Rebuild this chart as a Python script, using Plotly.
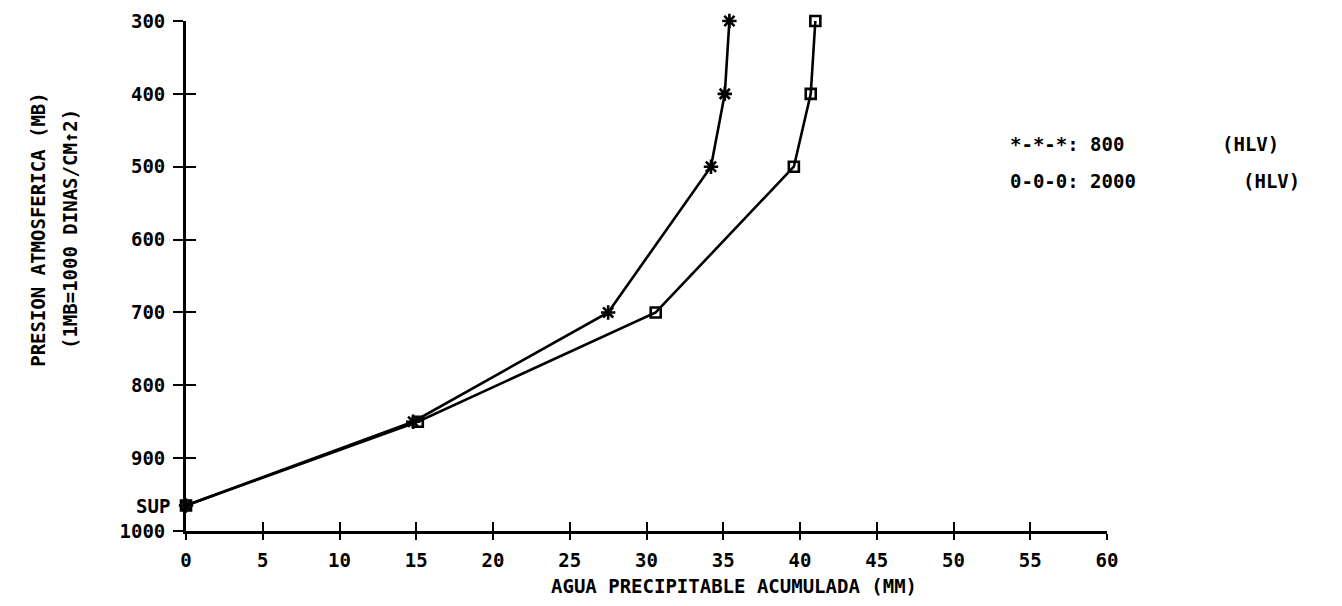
import plotly.graph_objects as go

# Data
pressure_levels = [965, 850, 700, 500, 400, 300]  # mb (SUP ~ 965)
agua_800 = [0.0, 14.8, 27.5, 34.2, 35.1, 35.4]
agua_2000 = [0.0, 15.1, 30.6, 39.6, 40.7, 41.0]

x_ticks = [0, 5, 10, 15, 20, 25, 30, 35, 40, 45, 50, 55, 60]
y_ticks = [300, 400, 500, 600, 700, 800, 900, 1000]
sup_level = 965

FONT = "DejaVu Sans Mono"
TXT = dict(family=FONT, size=19, color="black", weight="bold")

fig = go.Figure()

fig.add_trace(go.Scatter(
    x=agua_800, y=pressure_levels, mode="lines+markers",
    line=dict(color="black", width=2.6),
    marker=dict(symbol="asterisk-open", size=12, line=dict(color="black", width=2.6)),
    cliponaxis=False, showlegend=False))
fig.add_trace(go.Scatter(
    x=agua_2000, y=pressure_levels, mode="lines+markers",
    line=dict(color="black", width=2.6),
    marker=dict(symbol="square-open", size=10, color="black", line=dict(color="black", width=2.6)),
    cliponaxis=False, showlegend=False))

# invisible trace on overlay axes so the crossing ticks render
fig.add_trace(go.Scatter(x=[0], y=[1000], xaxis="x2", yaxis="y2", mode="markers",
                         marker=dict(opacity=0), showlegend=False, hoverinfo="skip"))

fig.update_layout(
    width=1334, height=596,
    margin=dict(l=178, r=235, t=13, b=73),
    paper_bgcolor="white", plot_bgcolor="white",
    font=dict(family=FONT, color="black"),
    xaxis=dict(range=[0, 60], tickvals=x_ticks, ticktext=[str(v) for v in x_ticks],
               showgrid=False, zeroline=False, showline=True, linecolor="black", linewidth=2.8,
               ticks="outside", ticklen=6, tickwidth=2.2, tickcolor="black",
               tickfont=TXT, ticklabelstandoff=4, automargin=False),
    yaxis=dict(range=[1000, 300], tickvals=y_ticks, ticktext=[str(v) for v in y_ticks],
               showgrid=False, zeroline=False, showline=True, linecolor="black", linewidth=2.8,
               ticks="outside", ticklen=10, tickwidth=2.2, tickcolor="black",
               tickfont=TXT, ticklabelstandoff=4, automargin=False),
    xaxis2=dict(range=[0, 60], tickvals=x_ticks, overlaying="x", showticklabels=False,
                showgrid=False, zeroline=False, showline=False, automargin=False,
                ticks="inside", ticklen=9, tickwidth=2.2, tickcolor="black"),
    yaxis2=dict(range=[1000, 300], tickvals=y_ticks, overlaying="y", showticklabels=False,
                showgrid=False, zeroline=False, showline=False, automargin=False,
                ticks="inside", ticklen=10, tickwidth=2.2, tickcolor="black"),
)

fig.add_annotation(text="SUP", xref="paper", x=0, xanchor="right", xshift=-14,
                   yref="y", y=sup_level, yanchor="middle", showarrow=False, font=TXT)

fig.add_annotation(text="PRESION ATMOSFERICA (MB)", xref="paper", x=-0.161, xanchor="center",
                   yref="paper", y=0.592, yanchor="middle", textangle=-90, showarrow=False,
                   font=TXT)
fig.add_annotation(text="(1MB=1000 DINAS/CM↑2)", xref="paper", x=-0.126, xanchor="center",
                   yref="paper", y=0.592, yanchor="middle", textangle=-90, showarrow=False,
                   font=TXT)

fig.add_annotation(text="AGUA PRECIPITABLE ACUMULADA (MM)", xref="paper", x=0.595, xanchor="center",
                   yref="paper", y=-0.108, yanchor="middle", showarrow=False, font=TXT)

# legend text
fig.add_annotation(text="*-*-*: 800", xref="paper", x=0.892, xanchor="left",
                   yref="paper", y=0.759, yanchor="middle", showarrow=False, font=TXT)
fig.add_annotation(text="(HLV)", xref="paper", x=1.123, xanchor="left",
                   yref="paper", y=0.759, yanchor="middle", showarrow=False, font=TXT)
fig.add_annotation(text="0-0-0: 2000", xref="paper", x=0.892, xanchor="left",
                   yref="paper", y=0.686, yanchor="middle", showarrow=False, font=TXT)
fig.add_annotation(text="(HLV)", xref="paper", x=1.145, xanchor="left",
                   yref="paper", y=0.686, yanchor="middle", showarrow=False, font=TXT)

fig.write_html("out.html")
